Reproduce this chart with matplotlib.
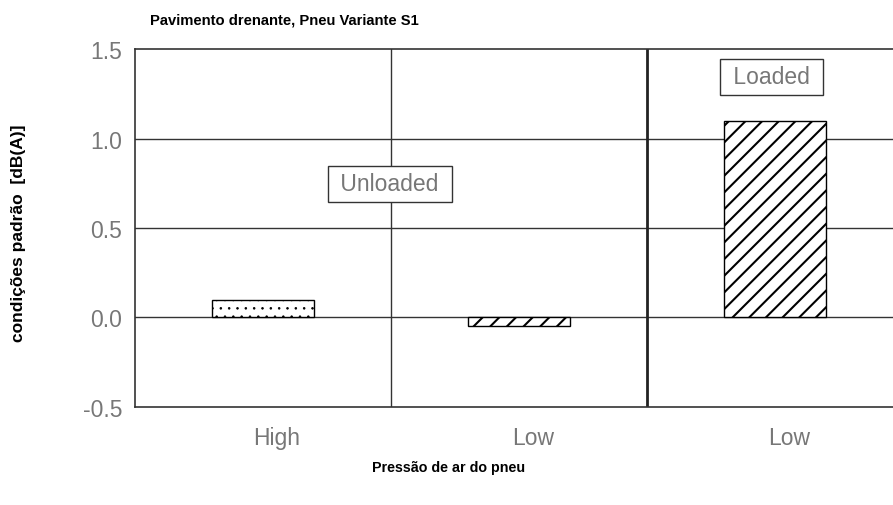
import numpy as np
import matplotlib
matplotlib.use("Agg")
import matplotlib.pyplot as plt
from matplotlib.transforms import ScaledTranslation

plt.rcParams['font.family'] = ['Liberation Sans', 'DejaVu Sans']

# data
categories = ["High", "Low", "Low"]
values = [0.1, -0.05, 1.1]
hatches = ["..", "//", "//"]
hatch_widths = [0.6, 1.5, 1.5]
group_labels = ["Unloaded", "Loaded"]

fig = plt.figure(figsize=(8.93, 5.06), dpi=100)
ax = fig.add_axes([0.151, 0.194, 0.86, 0.707])

x = np.arange(len(categories))
for xi, val, h, hw in zip(x, values, hatches, hatch_widths):
    with plt.rc_context({'hatch.linewidth': hw}):
        ax.bar(xi, val, width=0.4, color="white", edgecolor="black", hatch=h, linewidth=1.0, zorder=3)

ax.set_xlim(-0.5, len(categories) - 0.5)
ax.set_ylim(-0.5, 1.5)

# grid lines
for yv in [0.0, 0.5, 1.0]:
    ax.axhline(yv, color="#333333", linewidth=1.0, zorder=1)
ax.axvline(0.5, color="#333333", linewidth=1.0, zorder=1)
ax.axvline(1.5, color="#222222", linewidth=2.0, zorder=1)

ax.set_yticks([-0.5, 0.0, 0.5, 1.0, 1.5])
ax.set_yticklabels(["-0.5", "0.0", "0.5", "1.0", "1.5"])
ax.set_xticks(x)
ax.set_xticklabels(categories)
ax.tick_params(length=0, labelsize=16.5, labelcolor="#777777")
ax.tick_params(axis="y", pad=9)
ax.tick_params(axis="x", pad=14)
for lab in ax.get_xticklabels():
    lab.set_transform(lab.get_transform() + ScaledTranslation(0.14, 0, fig.dpi_scale_trans))

for sp in ["left", "bottom", "top"]:
    ax.spines[sp].set_color("#333333")
    ax.spines[sp].set_linewidth(1.2)
ax.spines["right"].set_visible(False)

box = dict(boxstyle="square,pad=0.3", facecolor="white", edgecolor="#333333", linewidth=1.0)
ax.text(0.496, 0.746, " " + group_labels[0] + " ", ha="center", va="center", fontsize=16.5,
        color="#777777", bbox=box, zorder=4)
ax.text(1.988, 1.344, " " + group_labels[1] + " ", ha="center", va="center", fontsize=16.5,
        color="#777777", bbox=box, zorder=4)

fig.text(0.168, 0.96, "Pavimento drenante, Pneu Variante S1", fontsize=10.6, fontweight="bold", ha="left", va="center")
fig.text(0.502, 0.075, "Pressão de ar do pneu", fontsize=10.3, fontweight="bold", ha="center", va="center")
fig.text(0.021, 0.54, "condições padrão  [dB(A)]", fontsize=12.5, fontweight="bold", ha="center", va="center", rotation=90)

fig.savefig("out.png", dpi=100)
